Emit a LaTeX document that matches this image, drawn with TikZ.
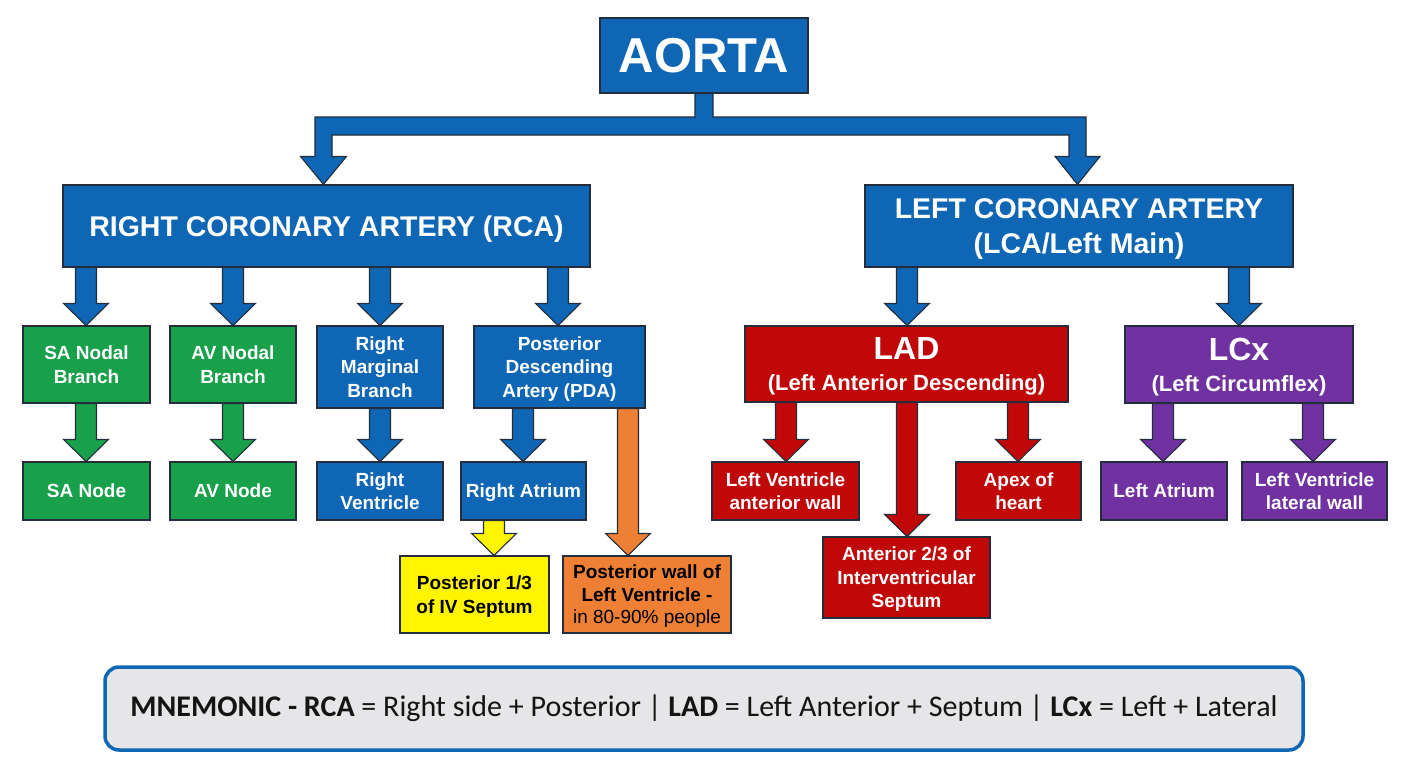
\documentclass[tikz,border=0pt]{standalone}
\usepackage{fontspec}
\setmainfont{Liberation Sans}
\newfontfamily\mnemfont{Carlito}
\usetikzlibrary{calc,backgrounds}
\definecolor{cblue}{RGB}{14,102,180}
\definecolor{cgreen}{RGB}{24,160,74}
\definecolor{cred}{RGB}{192,8,8}
\definecolor{cpurple}{RGB}{112,50,160}
\definecolor{cyellow}{RGB}{255,245,0}
\definecolor{corange}{RGB}{237,128,52}
\definecolor{edge}{RGB}{35,45,60}
\definecolor{mgray}{RGB}{230,230,232}
\definecolor{mtext}{RGB}{20,20,20}
\tikzset{
  box/.style={draw=edge, line width=1.1pt, align=center, inner sep=0pt, text depth=0pt,
    text=white, font=\bfseries\fontsize{19}{23.5}\selectfont},
  bluebox/.style={box, fill=cblue},
  greenbox/.style={box, fill=cgreen},
  redbox/.style={box, fill=cred},
  purplebox/.style={box, fill=cpurple},
  yellowbox/.style={box, fill=cyellow, text=black},
  orangebox/.style={box, fill=corange, text=black},
  blk/.style={draw=edge, line width=1.1pt, line join=miter},
  mnembox/.style={draw=cblue, line width=3.5pt, fill=mgray, rounded corners=14pt,
    inner sep=0pt, text=mtext},
}
% block arrow: colour, from node, to node, x centre (px)
\newcommand\blockarr[4]{%
  \draw[blk, fill=#1] let \p1=(#2.south), \p2=(#3.north) in
    ({#4pt-10.5pt},\y1) -- ({#4pt-10.5pt},{\y2+22pt}) -- ({#4pt-22.5pt},{\y2+22pt})
    -- (#4pt,\y2) -- ({#4pt+22.5pt},{\y2+22pt}) -- ({#4pt+10.5pt},{\y2+22pt})
    -- ({#4pt+10.5pt},\y1) -- cycle;}
\begin{document}
\begin{tikzpicture}[x=1pt,y=-1pt]
\useasboundingbox (0,0) rectangle (1408,768);

% top
\node[bluebox, minimum width=208, minimum height=75, font=\bfseries\fontsize{49}{55}\selectfont] (aorta) at (704,55.5) {AORTA};
\node[bluebox, minimum width=527, minimum height=82, font=\bfseries\fontsize{28.5}{33}\selectfont] (rca) at (326.5,226) {RIGHT CORONARY ARTERY (RCA)};
\node[bluebox, minimum width=428, minimum height=82, font=\bfseries\fontsize{28.5}{35}\selectfont] (lca) at (1079,226) {LEFT CORONARY ARTERY\\(LCA/Left Main)};

% RCA branches
\node[greenbox, minimum width=127, minimum height=77] (sanb) at (86.5,364.5) {SA Nodal\\Branch};
\node[greenbox, minimum width=126, minimum height=77] (avnb) at (233,364.5) {AV Nodal\\Branch};
\node[bluebox, minimum width=126, minimum height=82] (rmb) at (380,367) {Right\\Marginal\\Branch};
\node[bluebox, minimum width=171, minimum height=82] (pda) at (559.5,367) {Posterior\\Descending\\Artery (PDA)};

\node[greenbox, minimum width=127, minimum height=58] (san) at (86.5,491) {SA Node};
\node[greenbox, minimum width=126, minimum height=58] (avn) at (233,491) {AV Node};
\node[bluebox, minimum width=126, minimum height=58] (rv) at (380,491) {Right\\Ventricle};
\node[bluebox, minimum width=125, minimum height=58] (ra) at (523.5,491) {Right Atrium};
\node[yellowbox, minimum width=149, minimum height=77] (sept) at (474.5,594.5) {Posterior 1/3\\of IV Septum};
\node[orangebox, minimum width=168, minimum height=77, font=\fontsize{19}{22.5}\selectfont] (plv) at (647,594.5) {\textbf{Posterior wall of}\\\textbf{Left Ventricle -}\\in 80-90\% people};

% LCA branches
\node[redbox, minimum width=323, minimum height=76, font=\bfseries\fontsize{22}{31}\selectfont] (lad) at (906.5,364) {{\fontsize{32}{32}\selectfont LAD}\\(Left Anterior Descending)};
\node[purplebox, minimum width=228, minimum height=77, font=\bfseries\fontsize{22}{31}\selectfont] (lcx) at (1239,364.5) {{\fontsize{32}{32}\selectfont LCx}\\(Left Circumflex)};

\node[redbox, minimum width=147, minimum height=58] (lva) at (785.5,491) {Left Ventricle\\anterior wall};
\node[redbox, minimum width=125, minimum height=58] (apex) at (1018.5,491) {Apex of\\heart};
\node[redbox, minimum width=167, minimum height=81] (ant) at (906.5,577.5) {Anterior 2/3 of\\Interventricular\\Septum};
\node[purplebox, minimum width=126, minimum height=58] (la) at (1164,491) {Left Atrium};
\node[purplebox, minimum width=145, minimum height=58] (lvl) at (1314.5,491) {Left Ventricle\\lateral wall};

% mnemonic
\node[mnembox, minimum width=1198, minimum height=83, font=\mnemfont\fontsize{30}{34}\selectfont] (mnem) at (704,708.5)
  {\textbf{MNEMONIC - RCA} = Right side + Posterior | \textbf{LAD} = Left Anterior + Septum | \textbf{LCx} = Left + Lateral};

\begin{scope}[on background layer]
\fill[white] (0,0) rectangle (1408,768);
% aorta tree
\draw[blk, fill=cblue] let \p1=(aorta.south), \p2=(rca.north), \p3=(lca.north) in
  (695pt,\y1) -- (695pt,-117pt) -- (315pt,-117pt) -- (315pt,{\y2+28pt}) -- (300.5pt,{\y2+28pt})
  -- (323.5pt,\y2) -- (346.5pt,{\y2+28pt}) -- (332pt,{\y2+28pt}) -- (332pt,-135pt)
  -- (1069pt,-135pt) -- (1069pt,{\y3+28pt}) -- (1055pt,{\y3+28pt}) -- (1077.5pt,\y3)
  -- (1100pt,{\y3+28pt}) -- (1086pt,{\y3+28pt}) -- (1086pt,-117pt) -- (713pt,-117pt)
  -- (713pt,\y1) -- cycle;
\blockarr{cblue}{rca}{sanb}{86}
\blockarr{cblue}{rca}{avnb}{233}
\blockarr{cblue}{rca}{rmb}{380}
\blockarr{cblue}{rca}{pda}{558}
\blockarr{cgreen}{sanb}{san}{86}
\blockarr{cgreen}{avnb}{avn}{233}
\blockarr{cblue}{rmb}{rv}{380}
\blockarr{cblue}{pda}{ra}{523}
\blockarr{corange}{pda}{plv}{628}
\blockarr{cyellow}{ra}{sept}{494}
\blockarr{cblue}{lca}{lad}{907}
\blockarr{cblue}{lca}{lcx}{1239}
\blockarr{cred}{lad}{lva}{786}
\blockarr{cred}{lad}{ant}{907}
\blockarr{cred}{lad}{apex}{1018}
\blockarr{cpurple}{lcx}{la}{1163}
\blockarr{cpurple}{lcx}{lvl}{1313}
\end{scope}
\end{tikzpicture}
\end{document}
